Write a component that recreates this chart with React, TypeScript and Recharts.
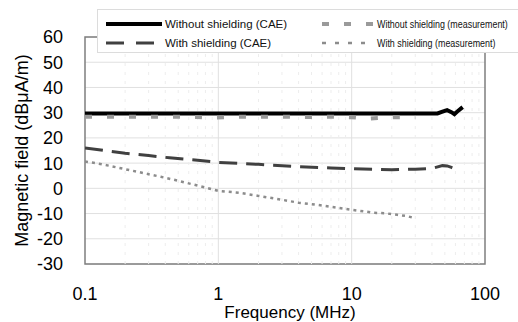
import { LineChart, Line, XAxis, YAxis, CartesianGrid, ReferenceLine, ReferenceArea, Label } from 'recharts';

const freqTicks = [0.1, 1, 10, 100];
const minorTicks = [0.2, 0.3, 0.4, 0.5, 0.6, 0.7, 0.8, 0.9, 2, 3, 4, 5, 6, 7, 8, 9, 20, 30, 40, 50, 60, 70, 80, 90];
const fieldTicks = [-30, -20, -10, 0, 10, 20, 30, 40, 50, 60];

const noShieldCaeFreq = [0.1, 0.3, 1, 3, 10, 30, 44, 48, 52, 56, 59, 63, 68];
const noShieldCaeVal = [29.7, 29.7, 29.7, 29.7, 29.7, 29.7, 29.7, 30.4, 31, 30.2, 29.4, 30.8, 32.2];

const noShieldMeasFreq = [0.1, 0.15, 0.2, 0.3, 0.5, 0.7, 0.9, 1.2, 1.5, 2, 3, 5, 7, 10, 13, 17, 22, 30];
const noShieldMeasVal = [28.4, 28.4, 28.4, 28.4, 28.4, 28.3, 28.0, 28.2, 28.4, 28.4, 28.4, 28.3, 28.4, 28.2, 27.6, 28.0, 28.2, 28.3];

const shieldCaeFreq = [0.1, 0.15, 0.2, 0.3, 0.43, 0.7, 1, 2, 4, 7, 10, 15, 20, 30, 40, 48, 52, 56, 60, 65];
const shieldCaeVal = [16, 14.8, 13.9, 13, 12.1, 11.1, 10.3, 9.5, 8.6, 8.1, 7.8, 7.5, 7.4, 7.6, 7.9, 9.0, 8.9, 8.3, 7.6, 7.3];

const shieldMeasFreq = [0.1, 0.12, 0.15, 0.2, 0.3, 0.37, 0.5, 0.65, 0.8, 1, 1.45, 2, 2.7, 4, 5.5, 7, 10, 13, 14.5, 18, 22, 26, 29];
const shieldMeasVal = [10.6, 10.0, 9.0, 7.6, 5.6, 4.6, 3.0, 1.5, 0.3, -1.0, -1.8, -3.0, -4.1, -5.7, -6.5, -7.3, -8.5, -9.3, -9.7, -9.9, -10.5, -11.0, -11.7];

const legendNames = [
  'Without shielding (CAE)',
  'With shielding (CAE)',
  'Without shielding (measurement)',
  'With shielding (measurement)',
];

const zip = (f: number[], v: number[]) => f.map((x, i) => ({ f: x, v: v[i] }));

const series = [
  { key: 'a', data: zip(noShieldCaeFreq, noShieldCaeVal), color: '#000000', width: 4, dash: undefined as string | undefined },
  { key: 'b', data: zip(shieldCaeFreq, shieldCaeVal), color: '#404040', width: 3, dash: '18 9' },
  { key: 'c', data: zip(noShieldMeasFreq, noShieldMeasVal), color: '#9a9a9a', width: 4, dash: '7 15' },
  { key: 'd', data: zip(shieldMeasFreq, shieldMeasVal), color: '#8c8c8c', width: 2.5, dash: '3 4' },
];

const font = "'Liberation Sans', Arial, sans-serif";

function LegendBox() {
  // the two measurement entries use a condensed face in the original
  const rows = [
    { x: 9, y: 15, s: series[0], name: legendNames[0], w: 56, tx: 68, fs: 11.5, sx: 1, lw: 4, dash: undefined as string | undefined },
    { x: 9, y: 34, s: series[1], name: legendNames[1], w: 48, tx: 68, fs: 11.5, sx: 1, lw: 3, dash: '18 12' },
    { x: 225, y: 15, s: series[2], name: legendNames[2], w: 51, tx: 280, fs: 10.5, sx: 0.85, lw: 4, dash: '7 15' },
    { x: 225, y: 34, s: series[3], name: legendNames[3], w: 51, tx: 280, fs: 10.5, sx: 0.85, lw: 2.5, dash: '4 9' },
  ];
  return (
    <svg width={421} height={44} style={{ position: 'absolute', left: 97, top: 9 }}>
      <rect x={0.5} y={0.5} width={430} height={43} fill="#fff" stroke="#dcdcdc" />
      {rows.map((r) => (
        <g key={r.name}>
          <line x1={r.x} x2={r.x + r.w} y1={r.y} y2={r.y} stroke={r.s.color} strokeWidth={r.lw} strokeDasharray={r.dash} />
          <text
            x={0}
            y={0}
            transform={`translate(${r.tx},${r.y + 4}) scale(${r.sx},1)`}
            fontFamily={font}
            fontSize={r.fs}
            fill="#111"
          >
            {r.name}
          </text>
        </g>
      ))}
    </svg>
  );
}

export default function App() {
  return (
    <div style={{ position: 'absolute', left: 0, top: 0, width: 518, height: 322, background: '#fff' }}>
      <LineChart width={518} height={322} margin={{ top: 37, right: 33, bottom: 0, left: 0 }}>
        <CartesianGrid stroke="#e0e0e0" strokeWidth={1} vertical={false} />
        {minorTicks.map((t) => (
          <ReferenceLine key={t} x={t} stroke="#ededed" strokeDasharray="3 6" />
        ))}
        <ReferenceLine x={1} stroke="#e0e0e0" />
        <ReferenceLine x={10} stroke="#e0e0e0" />
        <XAxis
          type="number"
          dataKey="f"
          scale="log"
          domain={[0.1, 100]}
          ticks={freqTicks}
          interval={0}
          allowDataOverflow
          height={58}
          axisLine={false}
          tickLine={false}
          tickMargin={17}
          tick={{ fill: '#000', fontSize: 18, fontFamily: font }}
          tickFormatter={(v: number) => String(v)}
        >
          <Label value="Frequency (MHz)" position="insideBottom" offset={4} dx={5} style={{ fill: '#000', fontSize: 17, fontFamily: font }} />
        </XAxis>
        <YAxis
          type="number"
          domain={[-30, 60]}
          ticks={fieldTicks}
          interval={0}
          width={85}
          axisLine={false}
          tickLine={false}
          tickMargin={16}
          tick={{ fill: '#000', fontSize: 18, fontFamily: font }}
        >
          <Label
            value="Magnetic field (dBμA/m)"
            angle={-90}
            position="insideLeft"
            offset={22}
            style={{ textAnchor: 'middle', fill: '#000', fontSize: 18, fontFamily: font }}
          />
        </YAxis>
        <ReferenceArea x1={0.1} x2={100} y1={-30} y2={60} fill="none" stroke="#7f7f7f" strokeWidth={1.5} />
        {series.map((s) => (
          <Line
            key={s.key}
            data={s.data}
            dataKey="v"
            type="linear"
            stroke={s.color}
            strokeWidth={s.width}
            strokeDasharray={s.dash}
            dot={false}
            activeDot={false}
            isAnimationActive={false}
          />
        ))}
      </LineChart>
      <LegendBox />
    </div>
  );
}
